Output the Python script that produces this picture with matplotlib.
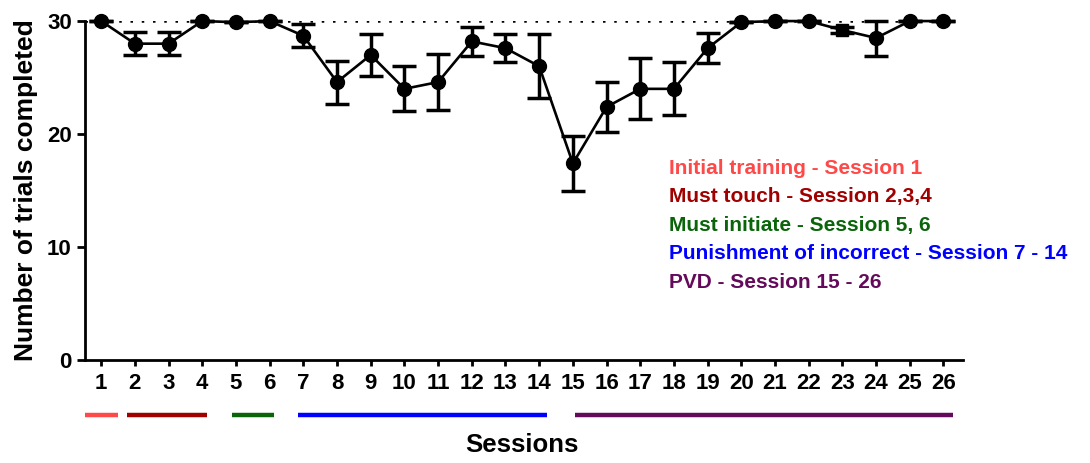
import matplotlib
matplotlib.use("Agg")
import matplotlib.pyplot as plt
import matplotlib.transforms as mtransforms

plt.rcParams['font.family'] = ['Liberation Sans', 'DejaVu Sans']
plt.rcParams['font.weight'] = 'bold'

sessions = list(range(1, 27))
means = [30, 28, 28, 30, 29.9, 30, 28.7, 24.6, 27.0, 24.0, 24.6, 28.2, 27.6, 26.0,
         17.4, 22.4, 24.0, 24.0, 27.6, 29.9, 30, 30, 29.2, 28.5, 30, 30]
errs = [0, 1.0, 1.0, 0, 0, 0, 1.0, 1.9, 1.85, 2.0, 2.5, 1.3, 1.25, 2.85,
        2.45, 2.25, 2.7, 2.35, 1.35, 0, 0, 0, 0.25, 1.55, 0, 0]
square_session = 23

phase_labels = ["Initial training - Session 1", "Must touch - Session 2,3,4",
                "Must initiate - Session 5, 6", "Punishment of incorrect - Session 7 - 14",
                "PVD - Session 15 - 26"]
phase_colors = ["#ff4848", "#a00000", "#0a650a", "#0000ff", "#640a5a"]
# bar spans in session units (start, end)
phase_spans = [(0.53, 1.5), (1.77, 4.15), (4.89, 6.13), (6.84, 14.22), (15.06, 26.27)]

fig = plt.figure(figsize=(10.9, 4.63), dpi=100)
ax = fig.add_axes([0.078, 0.2225, 0.8055, 0.732])

ax.axhline(30, color='black', linestyle=(0, (1, 3.5)), linewidth=1.8, zorder=1)

ax.plot(sessions, means, color='black', linewidth=1.9, zorder=2, clip_on=False)
ax.errorbar(sessions, means, yerr=errs, fmt='none', ecolor='black', elinewidth=2.5,
            capsize=8.5, capthick=2.5, zorder=3, clip_on=False)
xs_c = [s for s in sessions if s != square_session]
ys_c = [m for s, m in zip(sessions, means) if s != square_session]
ax.plot(xs_c, ys_c, 'o', color='black', markersize=10, zorder=4, clip_on=False)
ax.plot([square_session], [means[square_session - 1]], 's', color='black',
        markersize=9, zorder=4, clip_on=False)

ax.set_xlim(0.52, 26.58)
ax.set_ylim(0, 30)
ax.set_yticks([0, 10, 20, 30])
ax.set_xticks(sessions)
ax.set_xticklabels([str(s) for s in sessions])
for sp in ['top', 'right']:
    ax.spines[sp].set_visible(False)
for sp in ['left', 'bottom']:
    ax.spines[sp].set_linewidth(2.0)
ax.tick_params(axis='both', width=2.0, labelsize=16)
ax.tick_params(axis='y', length=6, pad=3.5)
ax.tick_params(axis='x', length=4.5, pad=5)
for lab in ax.get_xticklabels() + ax.get_yticklabels():
    lab.set_fontweight('bold')

ax.set_ylabel("Number of trials completed", fontsize=19, fontweight='bold')
ax.yaxis.set_label_coords(-0.0535, 0.5, transform=ax.transAxes)
fig.text(522 / 1090, 1 - 445 / 463, "Sessions", fontsize=18.5, fontweight='bold',
         ha='center', va='center')

trans = mtransforms.blended_transform_factory(ax.transData, fig.transFigure)
bar_y = 1 - 415 / 463
for (x0, x1), c in zip(phase_spans, phase_colors):
    ax.plot([x0, x1], [bar_y, bar_y], color=c, linewidth=3.2, transform=trans,
            clip_on=False, solid_capstyle='butt')

for i, (t, c) in enumerate(zip(phase_labels, phase_colors)):
    fig.text(669 / 1090, 1 - (168 + i * 28.5) / 463, t, color=c, fontsize=15,
             fontweight='bold', va='center', ha='left')

fig.savefig("out.png", dpi=100)
